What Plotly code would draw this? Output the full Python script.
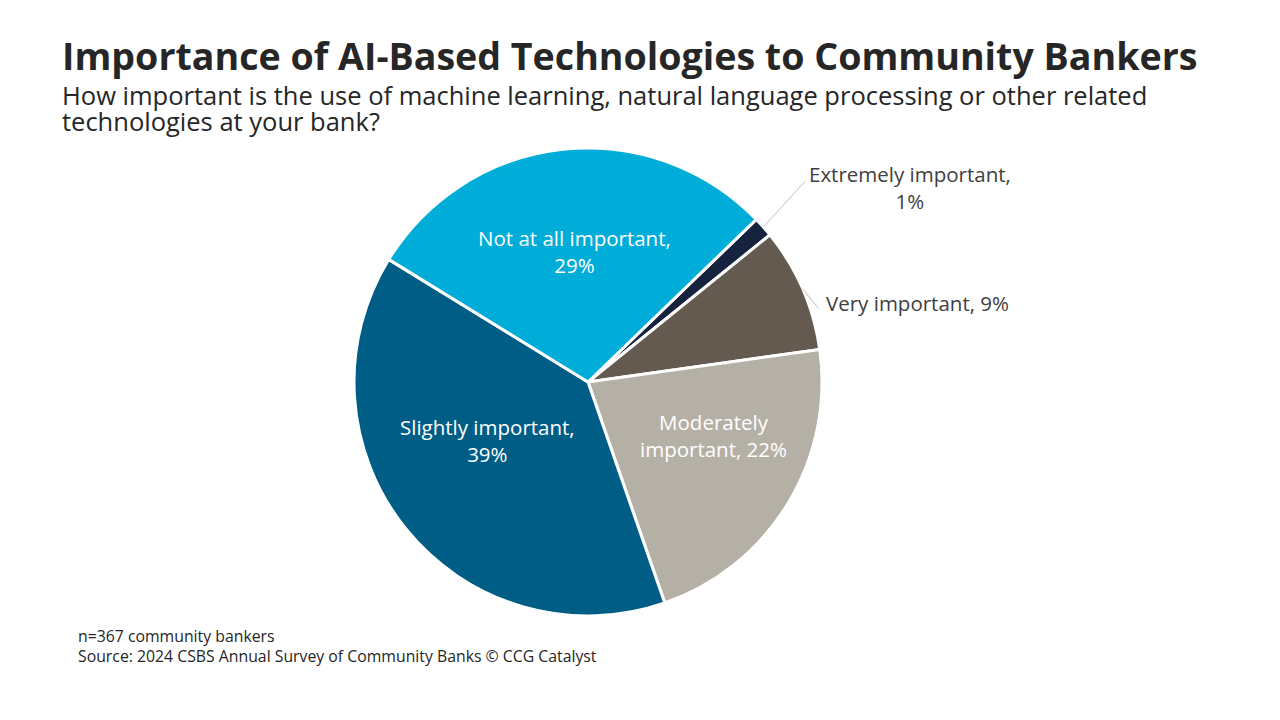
import math
import plotly.graph_objects as go

categories = ["Extremely important", "Very important", "Moderately important",
              "Slightly important", "Not at all important"]
values = [1.4, 8.6, 21.9, 39.1, 29.0]
pct_labels = ["1%", "9%", "22%", "39%", "29%"]
label_text = ["Extremely important,<br>1%", "Very important, 9%",
              "Moderately<br>important, 22%", "Slightly important,<br>39%",
              "Not at all important,<br>29%"]
colors = ["#15233F", "#645A50", "#B5B0A6", "#005E86", "#00ACD8"]
outside = [True, True, False, False, False]

# label placement styling: (radius fraction, angle shift deg) for inside labels,
# leader end offset and text offset (px) for outside labels
inside_place = {2: (0.585, -8.3), 3: (0.496, 8.7), 4: (0.56, 0.3)}
leader_end = {0: (43, -47), 1: (17, 21)}
text_anchor = {0: (147, -40, "center"), 1: (21, 14, "left")}

FONT = "Open Sans"
ROT = 46
CX, CY, R = 588, 382, 234
LBL = 20.5

fig = go.Figure(go.Pie(
    labels=categories,
    values=values,
    textinfo="none",
    sort=False,
    direction="clockwise",
    rotation=ROT,
    marker=dict(colors=colors, line=dict(color="white", width=3)),
    showlegend=False,
    hoverinfo="label+percent",
    domain=dict(x=[(CX - R) / 1280, (CX + R) / 1280],
                y=[1 - (CY + R) / 720, 1 - (CY - R) / 720]),
))

fig.update_layout(
    width=1280, height=720,
    margin=dict(l=0, r=0, t=0, b=0),
    paper_bgcolor="white",
    plot_bgcolor="white",
    font=dict(family=FONT, color="#262626"),
)


def px2paper(x, y):
    return x / 1280, 1 - y / 720


total = sum(values)
cum = 0.0
for i, v in enumerate(values):
    mid = ROT + (cum + v / 2) / total * 360
    cum += v
    if outside[i]:
        a = math.radians(mid)
        ex, ey = CX + R * math.sin(a), CY - R * math.cos(a)
        lx, ly = leader_end[i]
        x0, y0 = px2paper(ex, ey)
        # leader line
        fig.add_annotation(
            text="", xref="paper", yref="paper", x=x0, y=y0,
            ax=lx, ay=ly, showarrow=True, arrowhead=0, arrowwidth=1,
            arrowcolor="#BFBFBF", standoff=0, startstandoff=0,
        )
        tx, ty, anchor = text_anchor[i]
        x1, y1 = px2paper(ex + tx, ey + ty)
        fig.add_annotation(
            text=label_text[i], xref="paper", yref="paper", x=x1, y=y1,
            xanchor=anchor, yanchor="middle", showarrow=False, align="center",
            font=dict(family=FONT, size=LBL, color="#404040"),
        )
    else:
        rf, shift = inside_place[i]
        a = math.radians(mid + shift)
        x1, y1 = px2paper(CX + rf * R * math.sin(a), CY - rf * R * math.cos(a))
        fig.add_annotation(
            text=label_text[i], xref="paper", yref="paper", x=x1, y=y1,
            xanchor="center", yanchor="middle", showarrow=False, align="center",
            font=dict(family=FONT, size=LBL, color="white"),
        )

anns = [
    dict(text="<b>Importance of AI-Based Technologies to Community Bankers</b>",
         x=60, y=73, size=37.6),
    dict(text="How important is the use of machine learning, natural language processing or other related",
         x=60, y=107, size=25.5),
    dict(text="technologies at your bank?", x=60, y=133, size=25.5),
    dict(text="n=367 community bankers", x=76, y=645, size=15.8),
    dict(text="Source: 2024 CSBS Annual Survey of Community Banks \u00a9 CCG Catalyst",
         x=76, y=665, size=15.8),
]
for a in anns:
    x, y = px2paper(a["x"], a["y"])
    fig.add_annotation(
        text=a["text"], xref="paper", yref="paper", x=x, y=y,
        xanchor="left", yanchor="bottom", showarrow=False,
        font=dict(family=FONT, size=a["size"], color="#262626"),
        yshift=-a["size"] * 0.27,
    )

fig.write_html("out.html")
